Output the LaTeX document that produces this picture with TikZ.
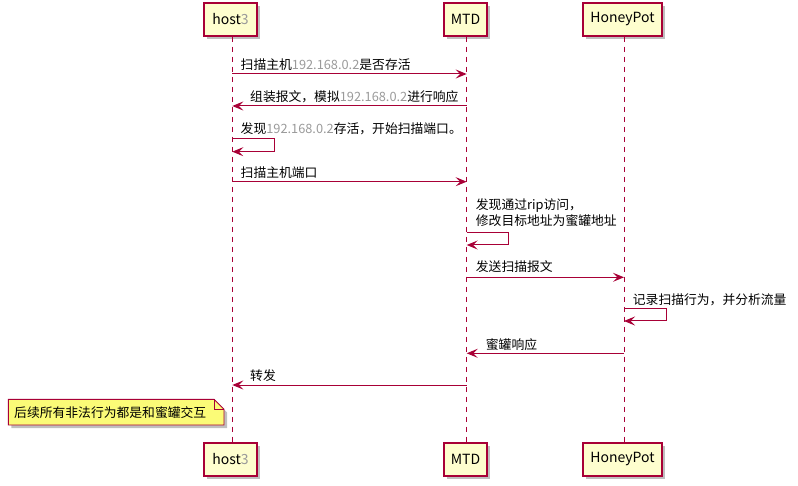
\documentclass[tikz,border=0pt]{standalone}
\usepackage{fontspec}
\setmainfont{Noto Sans CJK SC}
\usetikzlibrary{arrows.meta,shadows}
\definecolor{pu}{HTML}{A80036}
\definecolor{pfill}{HTML}{FEFECE}
\definecolor{nfill}{HTML}{FBFB77}
\definecolor{numgray}{HTML}{9A9A9A}
\newcommand{\gn}[1]{{\color{numgray}#1}}
\begin{document}
\begin{tikzpicture}[x=1pt,y=-1pt,
  part/.style={draw=pu, fill=pfill, line width=1.1pt, minimum height=33pt, inner sep=0pt,
    font=\fontsize{14}{16}\selectfont,
    drop shadow={shadow xshift=3pt, shadow yshift=-3pt, fill=black, opacity=0.25}},
  life/.style={draw=pu, line width=0.9pt, dash pattern=on 5pt off 5pt},
  msg/.style={draw=pu, line width=1pt, -{Stealth[length=11pt,width=9pt,inset=4.5pt]}},
  lbl/.style={anchor=west, inner sep=0pt, font=\fontsize{12.8}{16.5}\selectfont, align=left},
  notebox/.style={draw=pu, fill=nfill, line width=0.9pt}
]
\useasboundingbox (0,0) rectangle (798,486);
% participants
\node[part, minimum width=53pt] (h3top) at (230.5,19.5) {host\gn{3}};
\node[part, minimum width=43pt] (mtdtop) at (465.5,19.5) {MTD};
\node[part, minimum width=79pt] (hptop) at (622.5,19.5) {HoneyPot};
\node[part, minimum width=53pt] (h3bot) at (230.5,459.5) {host\gn{3}};
\node[part, minimum width=43pt] (mtdbot) at (465.5,459.5) {MTD};
\node[part, minimum width=79pt] (hpbot) at (622.5,459.5) {HoneyPot};
% lifelines
\coordinate (Lh) at ([xshift=1.8pt]h3top.south);
\coordinate (Lm) at ([xshift=1.2pt]mtdtop.south);
\coordinate (Lp) at ([xshift=1.5pt]hptop.south);
\draw[life] (Lh) -- ([xshift=1.8pt]h3bot.north);
\draw[life] (Lm) -- ([xshift=1.2pt]mtdbot.north);
\draw[life] (Lp) -- ([xshift=1.5pt]hpbot.north);
% messages
\draw[msg] (Lh |- 0,74) -- (Lm |- 0,74);
\node[lbl] (t1) at (240.5,65) {扫描主机\gn{192.168.0.2}是否存活};
\draw[msg] (Lm |- 0,106) -- (Lh |- 0,106);
\node[lbl] (t2) at (250,97) {组装报文，模拟\gn{192.168.0.2}进行响应};
\draw[msg] (Lh |- 0,138.3) -| (274.3,151.7) -- (Lh |- 0,151.7);
\node[lbl] (t3) at (240.5,128.5) {发现\gn{192.168.0.2}存活，开始扫描端口。};
\draw[msg] (Lh |- 0,181.7) -- (Lm |- 0,181.7);
\node[lbl] (t4) at (240.5,172.7) {扫描主机端口};
\draw[msg] (Lm |- 0,232.3) -| (508.7,245) -- (Lm |- 0,245);
\node[lbl] (t5) at (475.7,212.5) {发现通过rip访问，\\修改目标地址为蜜罐地址};
\draw[msg] (Lm |- 0,277.3) -- (Lp |- 0,277.3);
\node[lbl] (t6) at (475.7,266.7) {发送扫描报文};
\draw[msg] (Lp |- 0,308.3) -| (666.5,321) -- (Lp |- 0,321);
\node[lbl] (t7) at (632.7,299.3) {记录扫描行为，并分析流量};
\draw[msg] (Lp |- 0,353.3) -- (Lm |- 0,353.3);
\node[lbl] (t8) at (485.7,344.3) {蜜罐响应};
\draw[msg] (Lm |- 0,385) -- (Lh |- 0,385);
\node[lbl] (t9) at (250,375.5) {转发};
% note
\fill[black, opacity=0.25] (11.3,402.3) -- (217,402.3) -- (227,412.3) -- (227,428) -- (11.3,428) -- cycle;
\draw[notebox] (8.3,399.3) -- (214,399.3) -- (224,409.3) -- (224,425) -- (8.3,425) -- cycle;
\draw[draw=pu, line width=0.9pt] (214,399.3) -- (214,409.3) -- (224,409.3);
\node[lbl] (note) at (14,413) {后续所有非法行为都是和蜜罐交互};
\end{tikzpicture}
\end{document}
